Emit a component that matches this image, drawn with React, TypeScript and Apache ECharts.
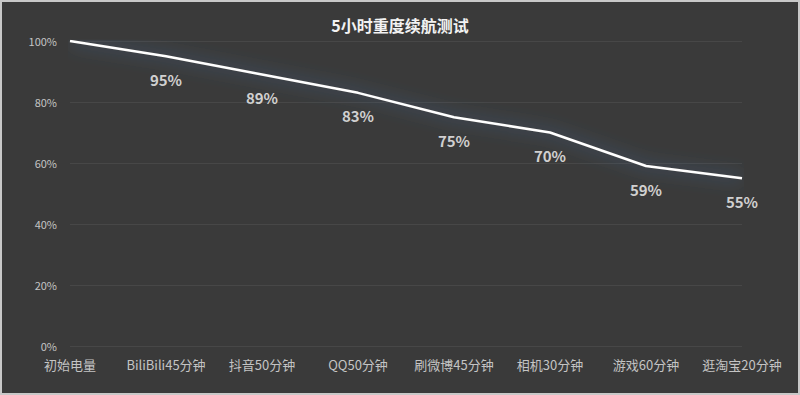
import React, { useEffect, useRef } from "react";
import * as echarts from "echarts";

const titleText = "5小时重度续航测试";
const categories = ["初始电量", "BiliBili45分钟", "抖音50分钟", "QQ50分钟", "刷微博45分钟", "相机30分钟", "游戏60分钟", "逛淘宝20分钟"];
const batteryValues = [100, 95, 89, 83, 75, 70, 59, 55];
const showLabel = [false, true, true, true, true, true, true, true];

export default function App() {
  const ref = useRef<HTMLDivElement>(null);
  useEffect(() => {
    document.body.style.margin = "0";
    const chart = echarts.init(ref.current!, null, { renderer: "svg" });
    chart.setOption({
      animation: false,
      backgroundColor: "#3a3a3a",
      title: {
        text: titleText,
        left: "center",
        top: 10,
        textStyle: { color: "#f2f2f2", fontSize: 16, fontWeight: "bold", fontFamily: "Noto Sans CJK SC" },
      },
      grid: { left: 68, right: 56, top: 39, bottom: 47, containLabel: false },
      xAxis: {
        type: "category",
        data: categories,
        boundaryGap: false,
        axisLine: { show: false },
        axisTick: { show: false },
        axisLabel: { color: "#c4c4c4", fontSize: 13, margin: 12, fontFamily: "Noto Sans CJK SC", interval: 0 },
      },
      yAxis: {
        type: "value",
        min: 0,
        max: 100,
        interval: 20,
        axisLine: { show: false },
        axisTick: { show: false },
        axisLabel: { color: "#c4c4c4", fontSize: 11, margin: 13, formatter: "{value}%", fontFamily: "Noto Sans CJK SC" },
        splitLine: { lineStyle: { color: "#474747", width: 1 } },
      },
      series: [
        {
          type: "line",
          data: batteryValues.map((v, i) => ({ value: v, label: { show: showLabel[i] } })),
          symbol: "circle",
          symbolSize: 1,
          showSymbol: true,
          itemStyle: { color: "rgba(0,0,0,0)" },
          lineStyle: { color: "#ffffff", width: 2.5, shadowColor: "rgba(70,120,175,1)", shadowBlur: 18 },
          label: {
            show: true,
            position: "bottom",
            distance: 15,
            formatter: "{c}%",
            color: "#d0d0d0",
            fontSize: 15,
            fontWeight: "bold",
            fontFamily: "Noto Sans CJK SC",
          },
        },
      ],
    });
    return () => chart.dispose();
  }, []);
  return (
    <div
      style={{
        position: "absolute",
        left: 0,
        top: 0,
        width: 800,
        height: 395,
        boxSizing: "border-box",
        border: "2px solid #c8c8c8",
        background: "#3a3a3a",
      }}
    >
      <div ref={ref} style={{ width: 796, height: 391 }} />
    </div>
  );
}
